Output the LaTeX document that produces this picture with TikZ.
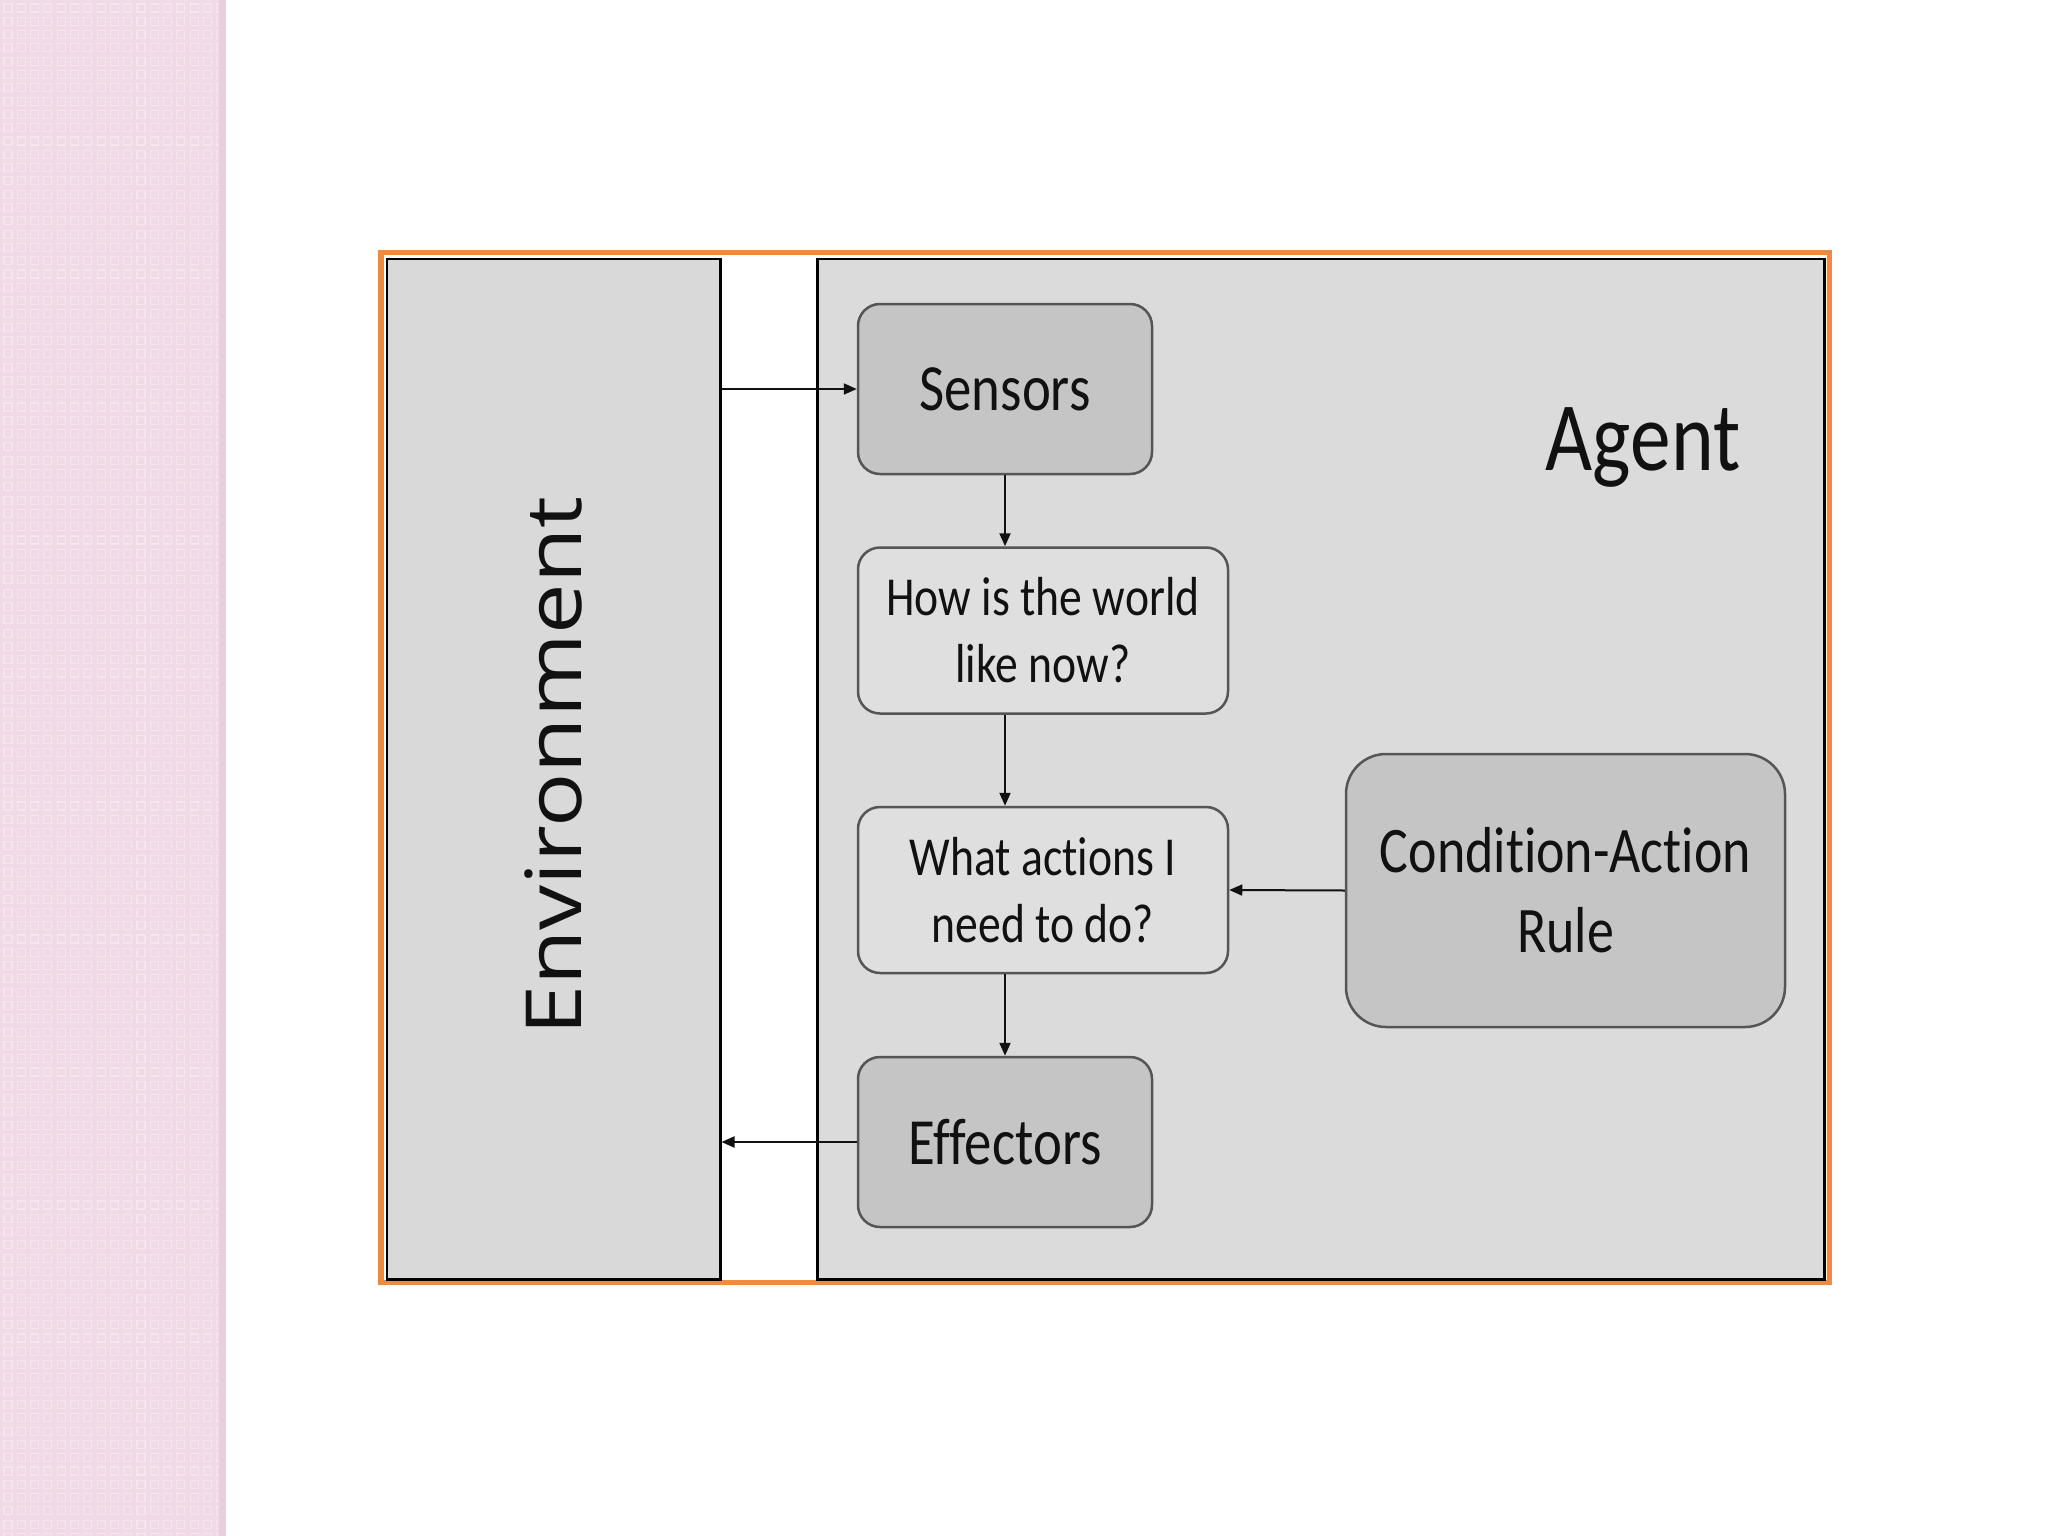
\documentclass[tikz,border=0pt]{standalone}
\usepackage{fontspec}
\usetikzlibrary{arrows.meta}
\newfontfamily\cfont[FakeStretch=0.83,Ligatures=NoCommon]{Carlito}
\newfontfamily\efont{Open Sans}
\definecolor{pinkbg}{HTML}{F1DAE7}
\definecolor{pinkln}{HTML}{F6E4EE}
\definecolor{pinkedge}{HTML}{E8CFDD}
\definecolor{orangefr}{HTML}{F08A3E}
\definecolor{envgray}{HTML}{D9D9D9}
\definecolor{agentgray}{HTML}{DCDBDC}
\definecolor{darkbox}{HTML}{C5C5C5}
\definecolor{lightbox}{HTML}{DFDFDF}
\definecolor{boxline}{HTML}{555555}
\definecolor{txt}{HTML}{111111}
\tikzset{
  panel/.style={draw=black, line width=2.5pt, inner sep=0pt, anchor=north west},
  darkstep/.style={draw=boxline, line width=2.5pt, fill=darkbox, rounded corners=22pt,
    minimum width=294pt, minimum height=170pt, inner sep=0pt, align=center,
    text=txt, font=\fontsize{66}{80}\selectfont\cfont},
  lightstep/.style={draw=boxline, line width=2.5pt, fill=lightbox, rounded corners=22pt,
    minimum width=370pt, minimum height=166pt, inner sep=0pt, align=center,
    text=txt, font=\fontsize{55}{67}\selectfont\cfont},
  rulebox/.style={draw=boxline, line width=2.5pt, fill=darkbox, rounded corners=40pt,
    minimum width=439pt, minimum height=273pt, inner sep=0pt, align=center,
    text=txt, font=\fontsize{65}{80}\selectfont\cfont},
  flow/.style={draw=txt, line width=2pt, -{Triangle[length=13pt,width=11pt]}}
}
\begin{document}
\begin{tikzpicture}[x=1pt,y=-1pt]
\useasboundingbox (0,0) rectangle (2048,1536);
\fill[white] (0,0) rectangle (2048,1536);
% pink side strip
\fill[pinkbg] (0,0) rectangle (226,1536);
\foreach \i in {0,...,16}{
  \foreach \j in {0,...,115}{
    \draw[pinkln, line width=1.1pt] (4+13.3*\i,4+13.3*\j) rectangle +(8,8);
  }
}
\fill[pinkedge] (219,0) rectangle (226,1536);
% orange frame
\draw[orangefr, line width=5.5pt] (381,252.5) rectangle (1829.5,1282.5);
% panels
\node[panel, fill=envgray, minimum width=333.5pt, minimum height=1020.5pt] (env) at (385.5,257.5) {};
\node[panel, fill=agentgray, minimum width=1007pt, minimum height=1020.5pt] (agent) at (816,257.5) {};
% labels
\node[text=txt, inner sep=0pt] (envlabel) at (553,766)
  {\scalebox{0.86}[1]{\rotatebox{90}{\fontsize{90}{100}\selectfont\efont Environment}}};
\node[text=txt, inner sep=0pt, anchor=base, font=\fontsize{98}{110}\selectfont\cfont] (agentlabel) at (1643,470) {Agent};
% steps
\node[darkstep] (sensors) at (1005,389) {Sensors};
\node[lightstep] (how) at (1043,630.5) {How is the world\\like now?};
\node[lightstep] (what) at (1043,890) {What actions I\\need to do?};
\node[darkstep] (effectors) at (1005,1142) {Effectors};
\node[rulebox] (rule) at (1565.5,890.5) {Condition-Action\\Rule};
% connectors
\draw[flow] (env.east |- sensors.west) -- (sensors.west);
\draw[flow] (sensors.south) -- (sensors.south |- how.north);
\draw[flow] (sensors.south |- how.south) -- (sensors.south |- what.north);
\draw[flow] (sensors.south |- what.south) -- (effectors.north);
\draw[flow] (rule.west) -- (what.east);
\draw[flow] (effectors.west) -- (env.east |- effectors.west);
\end{tikzpicture}
\end{document}
